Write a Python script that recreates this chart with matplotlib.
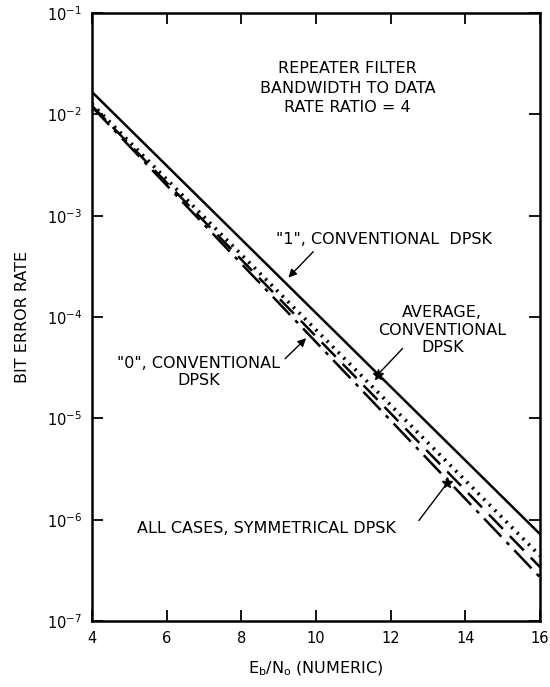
import matplotlib
matplotlib.use("Agg")
import matplotlib.pyplot as plt

# Bit error rate vs Eb/N0, end points of each straight curve
eb_no = [4, 16]
ber_one_conv = [1.67e-2, 7.2e-7]
ber_avg_conv = [1.27e-2, 4.4e-7]
ber_zero_conv = [1.22e-2, 3.4e-7]
ber_symmetrical = [1.19e-2, 2.7e-7]

x_ticks = [4, 6, 8, 10, 12, 14, 16]
y_ticks = [1e-7, 1e-6, 1e-5, 1e-4, 1e-3, 1e-2, 1e-1]
y_tick_labels = ["$10^{-7}$", "$10^{-6}$", "$10^{-5}$", "$10^{-4}$",
                 "$10^{-3}$", "$10^{-2}$", "$10^{-1}$"]

plt.rcParams["font.family"] = ["DejaVu Sans"]
plt.rcParams["mathtext.default"] = "regular"
fs = 11.5

fig = plt.figure(figsize=(5.5, 6.87), dpi=100)
ax = fig.add_axes([0.167, 0.096, 0.815, 0.885])

ax.plot(eb_no, ber_one_conv, color="black", lw=1.8, ls="-")
ax.plot(eb_no, ber_avg_conv, color="black", lw=2.6, ls=(0, (0.6, 1.6)))
ax.plot(eb_no, ber_zero_conv, color="black", lw=1.8, ls=(0, (8, 4)))
ax.plot(eb_no, ber_symmetrical, color="black", lw=1.8, ls=(0, (10, 3, 1.5, 3)))

ax.set_yscale("log")
ax.set_xlim(4, 16)
ax.set_ylim(1e-7, 1e-1)
ax.set_xticks(x_ticks)
ax.set_yticks(y_ticks)
ax.set_yticklabels(y_tick_labels)
ax.minorticks_off()
ax.tick_params(direction="in", length=8, width=1.3, labelsize=10.5,
               top=True, right=True, pad=7)
for s in ax.spines.values():
    s.set_linewidth(1.8)

ax.set_ylabel("BIT ERROR RATE", fontsize=fs, labelpad=12)
ax.set_xlabel("$E_b/N_o$ (NUMERIC)", fontsize=fs, labelpad=10)

ax.text(10.85, 10**-1.74, "REPEATER FILTER\nBANDWIDTH TO DATA\nRATE RATIO = 4",
        ha="center", va="center", fontsize=fs, linespacing=1.35)

arrow = dict(arrowstyle="-|>", color="black", lw=1.0, mutation_scale=12)
ax.annotate("\"1\", CONVENTIONAL  DPSK", xy=(9.21, 10**-3.63),
            xytext=(8.94, 10**-3.23), ha="left", va="center", fontsize=fs)
ax.annotate("", xy=(9.21, 10**-3.63), xytext=(9.98, 10**-3.335),
            arrowprops=arrow)

ax.annotate("AVERAGE,\nCONVENTIONAL\nDPSK", xy=(11.65, 10**-4.57),
            xytext=(13.38, 10**-4.13), ha="center", va="center",
            fontsize=fs, linespacing=1.2)
ax.annotate("", xy=(11.65, 10**-4.57), xytext=(12.37, 10**-4.29),
            arrowprops=dict(arrowstyle="-", color="black", lw=1.0))
ax.plot([11.65], [10**-4.57], marker="*", color="black", ms=8)

ax.annotate("\"0\", CONVENTIONAL\nDPSK", xy=(9.79, 10**-4.19),
            xytext=(6.85, 10**-4.54), ha="center", va="center",
            fontsize=fs, linespacing=1.2)
ax.annotate("", xy=(9.79, 10**-4.19), xytext=(9.12, 10**-4.43),
            arrowprops=arrow)

ax.text(5.22, 10**-6.09, "ALL CASES, SYMMETRICAL DPSK", ha="left",
        va="center", fontsize=fs)
ax.annotate("", xy=(13.51, 10**-5.64), xytext=(12.71, 10**-6.03),
            arrowprops=dict(arrowstyle="-", color="black", lw=1.0))
ax.plot([13.51], [10**-5.64], marker="*", color="black", ms=8)

fig.savefig("out.png", dpi=100)
